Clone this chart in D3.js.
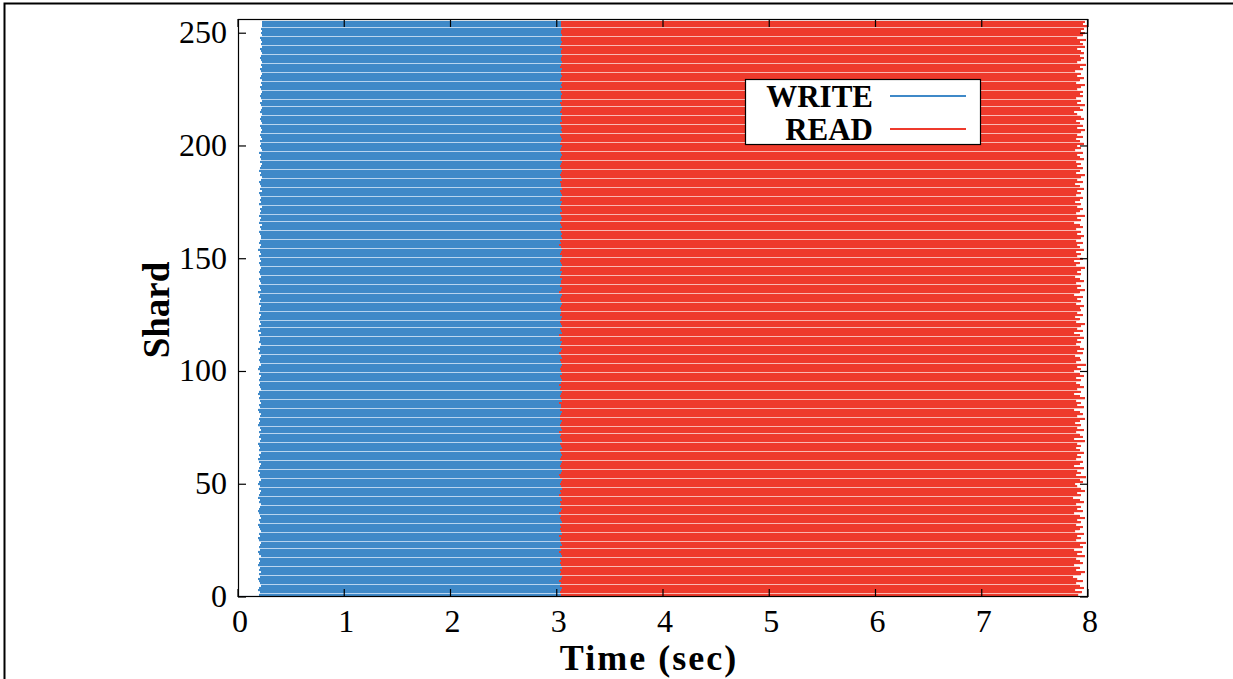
<!DOCTYPE html>
<html><head><meta charset="utf-8">
<script src="https://cdn.jsdelivr.net/npm/d3@7"></script>
<style>
html,body{margin:0;padding:0;background:#fff;overflow:hidden}
text{font-family:"Liberation Serif","Times New Roman",serif;fill:#000}
</style></head>
<body><svg id="c" width="1233" height="679"></svg>
<script>
const xTicks = [0,1,2,3,4,5,6,7,8];
const yTicks = [0,50,100,150,200,250];
const seriesNames = ["WRITE","READ"];
const seriesColors = ["#3f89c8","#ee3a2c"];
const stripeColors = ["#a4c8ea","#f8a39b"];

// per-shard (0..255) times in seconds
const writeStart = [
0,.20,.21,.19,.20,.22,.21,.20,.19,.21,.20,.22,.20,.21,.19,.20,
.21,.20,.22,.20,.19,.21,.20,.21,.22,.20,.19,.21,.20,.22,.21,.20,
.19,.21,.20,.22,.21,.20,.19,.20,.21,.22,.20,.21,.19,.20,.21,.22,
.20,.21,.19,.20,.22,.21,.20,.21,.19,.20,.21,.22,.20,.19,.21,.20,
.22,.20,.21,.20,.19,.21,.22,.20,.21,.20,.22,.21,.19,.20,.21,.20,
.21,.22,.20,.19,.21,.20,.22,.21,.20,.21,.19,.20,.22,.21,.20,.21,
.20,.21,.22,.20,.21,.19,.20,.22,.21,.20,.21,.22,.20,.21,.19,.21,
.22,.20,.21,.21,.20,.22,.19,.21,.20,.22,.21,.20,.21,.22,.20,.21,
.21,.22,.20,.21,.22,.20,.21,.19,.22,.21,.20,.22,.21,.20,.22,.21,
.20,.21,.22,.21,.20,.22,.21,.20,.22,.21,.19,.21,.22,.20,.21,.22,
.22,.21,.20,.22,.21,.23,.20,.21,.22,.20,.21,.22,.21,.23,.20,.22,
.21,.22,.21,.20,.23,.21,.22,.21,.20,.22,.23,.21,.22,.20,.21,.22,
.23,.21,.22,.21,.22,.20,.23,.22,.21,.22,.21,.23,.22,.21,.22,.23,
.22,.21,.23,.22,.21,.22,.23,.21,.22,.23,.22,.21,.23,.22,.21,.22,
.23,.22,.21,.23,.22,.23,.21,.22,.23,.22,.21,.23,.22,.23,.22,.21,
.22,.23,.22,.21,.23,.22,.23,.22,.21,.23,.22,.23,.22,.23,.23,.23];

// write end == read start
const writeEnd = [
2.87,3.04,3.03,3.04,3.05,3.03,3.04,3.02,3.04,3.05,3.03,3.04,3.03,3.05,3.04,3.03,
3.04,3.03,3.05,3.04,3.02,3.04,3.03,3.05,3.04,3.03,3.04,3.02,3.05,3.04,3.03,3.04,
3.03,3.05,3.04,3.03,3.04,3.02,3.04,3.05,3.03,3.04,3.03,3.05,3.04,3.02,3.04,3.03,
3.05,3.04,3.03,3.04,3.05,3.03,3.02,3.04,3.05,3.04,3.03,3.04,3.05,3.03,3.04,3.05,
3.04,3.03,3.05,3.04,3.03,3.05,3.04,3.03,3.04,3.02,3.05,3.04,3.03,3.04,3.05,3.03,
3.03,3.04,3.05,3.03,3.04,3.04,3.02,3.05,3.04,3.03,3.04,3.05,3.03,3.04,3.02,3.04,
3.05,3.04,3.03,3.05,3.04,3.03,3.04,3.05,3.04,3.03,3.05,3.04,3.02,3.04,3.05,3.03,
3.04,3.05,3.03,3.04,3.02,3.05,3.04,3.03,3.05,3.04,3.03,3.04,3.05,3.03,3.04,3.04,
3.03,3.04,3.05,3.04,3.03,3.04,3.05,3.02,3.04,3.05,3.03,3.04,3.04,3.05,3.03,3.04,
3.05,3.03,3.04,3.05,3.04,3.03,3.04,3.05,3.03,3.04,3.05,3.04,3.02,3.04,3.03,3.05,
3.04,3.05,3.04,3.03,3.05,3.04,3.03,3.04,3.05,3.04,3.03,3.05,3.04,3.03,3.04,3.05,
3.03,3.04,3.05,3.04,3.03,3.05,3.04,3.04,3.03,3.05,3.04,3.03,3.04,3.05,3.04,3.03,
3.04,3.05,3.03,3.04,3.05,3.04,3.03,3.04,3.05,3.03,3.04,3.05,3.04,3.03,3.05,3.04,
3.05,3.04,3.03,3.05,3.04,3.04,3.05,3.03,3.04,3.05,3.04,3.03,3.05,3.04,3.04,3.05,
3.04,3.03,3.05,3.04,3.05,3.03,3.04,3.05,3.04,3.04,3.05,3.03,3.04,3.05,3.04,3.04,
3.05,3.04,3.04,3.05,3.03,3.04,3.05,3.04,3.04,3.05,3.04,3.04,3.05,3.04,3.04,3.04];

const readEnd = [
7.66,7.91,7.94,7.88,7.96,7.92,7.89,7.95,7.90,7.86,7.93,7.97,7.89,7.92,7.87,7.95,
7.92,7.89,7.97,7.90,7.94,7.87,7.95,7.92,7.98,7.89,7.93,7.90,7.96,7.88,7.92,7.95,
7.89,7.93,7.90,7.97,7.92,7.87,7.95,7.90,7.93,7.89,7.96,7.92,7.86,7.93,7.90,7.97,
7.93,7.90,7.88,7.95,7.92,7.98,7.89,7.93,7.90,7.96,7.87,7.92,7.95,7.89,7.93,7.90,
7.96,7.92,7.89,7.93,7.90,7.97,7.87,7.95,7.92,7.89,7.96,7.90,7.93,7.88,7.92,7.97,
7.90,7.95,7.92,7.87,7.96,7.90,7.93,7.89,7.97,7.92,7.87,7.93,7.90,7.96,7.92,7.89,
7.93,7.89,7.96,7.92,7.87,7.93,7.90,7.98,7.89,7.93,7.92,7.88,7.95,7.90,7.96,7.92,
7.89,7.93,7.90,7.96,7.92,7.87,7.95,7.90,7.93,7.97,7.89,7.92,7.88,7.95,7.90,7.93,
7.92,7.96,7.89,7.93,7.90,7.95,7.87,7.92,7.97,7.90,7.93,7.89,7.96,7.92,7.88,7.93,
7.90,7.93,7.97,7.89,7.92,7.87,7.95,7.90,7.93,7.89,7.96,7.92,7.90,7.95,7.89,7.93,
7.96,7.90,7.93,7.89,7.95,7.92,7.87,7.93,7.90,7.97,7.89,7.92,7.95,7.90,7.93,7.88,
7.92,7.95,7.89,7.93,7.90,7.96,7.92,7.88,7.95,7.90,7.93,7.97,7.89,7.92,7.95,7.90,
7.93,7.89,7.96,7.92,7.90,7.95,7.88,7.93,7.90,7.96,7.92,7.89,7.95,7.90,7.93,7.97,
7.90,7.95,7.92,7.89,7.96,7.93,7.90,7.87,7.95,7.92,7.97,7.90,7.93,7.89,7.95,7.92,
7.95,7.90,7.93,7.97,7.89,7.92,7.96,7.90,7.93,7.88,7.95,7.92,7.98,7.90,7.93,7.96,
7.92,7.96,7.93,7.90,7.97,7.95,7.92,7.98,7.90,7.95,7.97,7.93,7.96,7.99,7.95,7.97];

const svg = d3.select("#c");
const L = 238, R = 1088, T = 19, B = 597;
const x = d3.scaleLinear().domain([0,8]).range([L,R]);
const y = d3.scaleLinear().domain([0,256.3]).range([B,T]);

// outer frame (left and top edges visible)
svg.append("path").attr("d","M4.5,679 V3.5 H1233").attr("fill","none").attr("stroke","#000").attr("stroke-width",2);

svg.append("clipPath").attr("id","pc").append("rect")
  .attr("x",L).attr("y",T).attr("width",R-L).attr("height",B-T);

const shards = d3.range(writeStart.length).map(i => ({
  i, segs: [[writeStart[i], writeEnd[i]], [writeEnd[i], readEnd[i]]]
}));

const g = svg.append("g").attr("clip-path","url(#pc)");
[0,1].forEach(s => {
  g.append("g").selectAll("rect").data(shards).join("rect")
    .attr("x", d => x(d.segs[s][0]))
    .attr("width", d => x(d.segs[s][1]) - x(d.segs[s][0]))
    .attr("y", d => y(d.i + 0.5))
    .attr("height", d => y(d.i - 0.5) - y(d.i + 0.5))
    .attr("fill", stripeColors[s]);
});
[0,1].forEach(s => {
  g.append("g").selectAll("rect").data(shards).join("rect")
    .attr("x", d => x(d.segs[s][0]))
    .attr("width", d => x(d.segs[s][1]) - x(d.segs[s][0]))
    .attr("y", d => Math.round(y(d.i + 0.5)))
    .attr("height", 2)
    .attr("shape-rendering","crispEdges")
    .attr("fill", seriesColors[s]);
});
svg.append("rect").attr("x",L+0.5).attr("y",T+0.5).attr("width",R-L-1).attr("height",B-T-1)
  .attr("fill","none").attr("stroke","#000").attr("stroke-width",1.2);

const TL = 8;
const ax = svg.append("g");
yTicks.forEach(v => {
  ax.append("line").attr("x1",L).attr("x2",L+TL).attr("y1",y(v)).attr("y2",y(v)).attr("stroke","#000").attr("stroke-width",1.2);
  ax.append("line").attr("x1",R).attr("x2",R-TL).attr("y1",y(v)).attr("y2",y(v)).attr("stroke","#000").attr("stroke-width",1.2);
  ax.append("text").attr("x",L-11).attr("y",y(v)+10).attr("text-anchor","end")
    .attr("font-size",32).text(v);
});
xTicks.forEach(v => {
  ax.append("line").attr("x1",x(v)).attr("x2",x(v)).attr("y1",B).attr("y2",B-TL).attr("stroke","#000").attr("stroke-width",1.2);
  ax.append("line").attr("x1",x(v)).attr("x2",x(v)).attr("y1",T).attr("y2",T+TL).attr("stroke","#000").attr("stroke-width",1.2);
  ax.append("text").attr("x",x(v)+2).attr("y",632).attr("text-anchor","middle")
    .attr("font-size",32).text(v);
});

svg.append("text").attr("transform","translate(169,310) rotate(-90)").attr("text-anchor","middle")
  .attr("font-size",37).attr("font-weight","bold").text("Shard");
svg.append("text").attr("x",649).attr("y",670).attr("text-anchor","middle")
  .attr("font-size",36).attr("font-weight","bold").attr("letter-spacing",2).text("Time (sec)");

// legend
const lg = svg.append("g");
lg.append("rect").attr("x",745.5).attr("y",79.5).attr("width",235).attr("height",65)
  .attr("fill","#fff").attr("stroke","#000").attr("stroke-width",1.2);
seriesNames.forEach((n,k) => {
  const cy = 96 + k*33;
  lg.append("text").attr("x",873).attr("y",cy+11).attr("text-anchor","end")
    .attr("font-size",31).attr("font-weight","bold").text(n);
  lg.append("line").attr("x1",890).attr("x2",966).attr("y1",cy).attr("y2",cy)
    .attr("stroke",seriesColors[k]).attr("stroke-width",2);
});
</script></body></html>
